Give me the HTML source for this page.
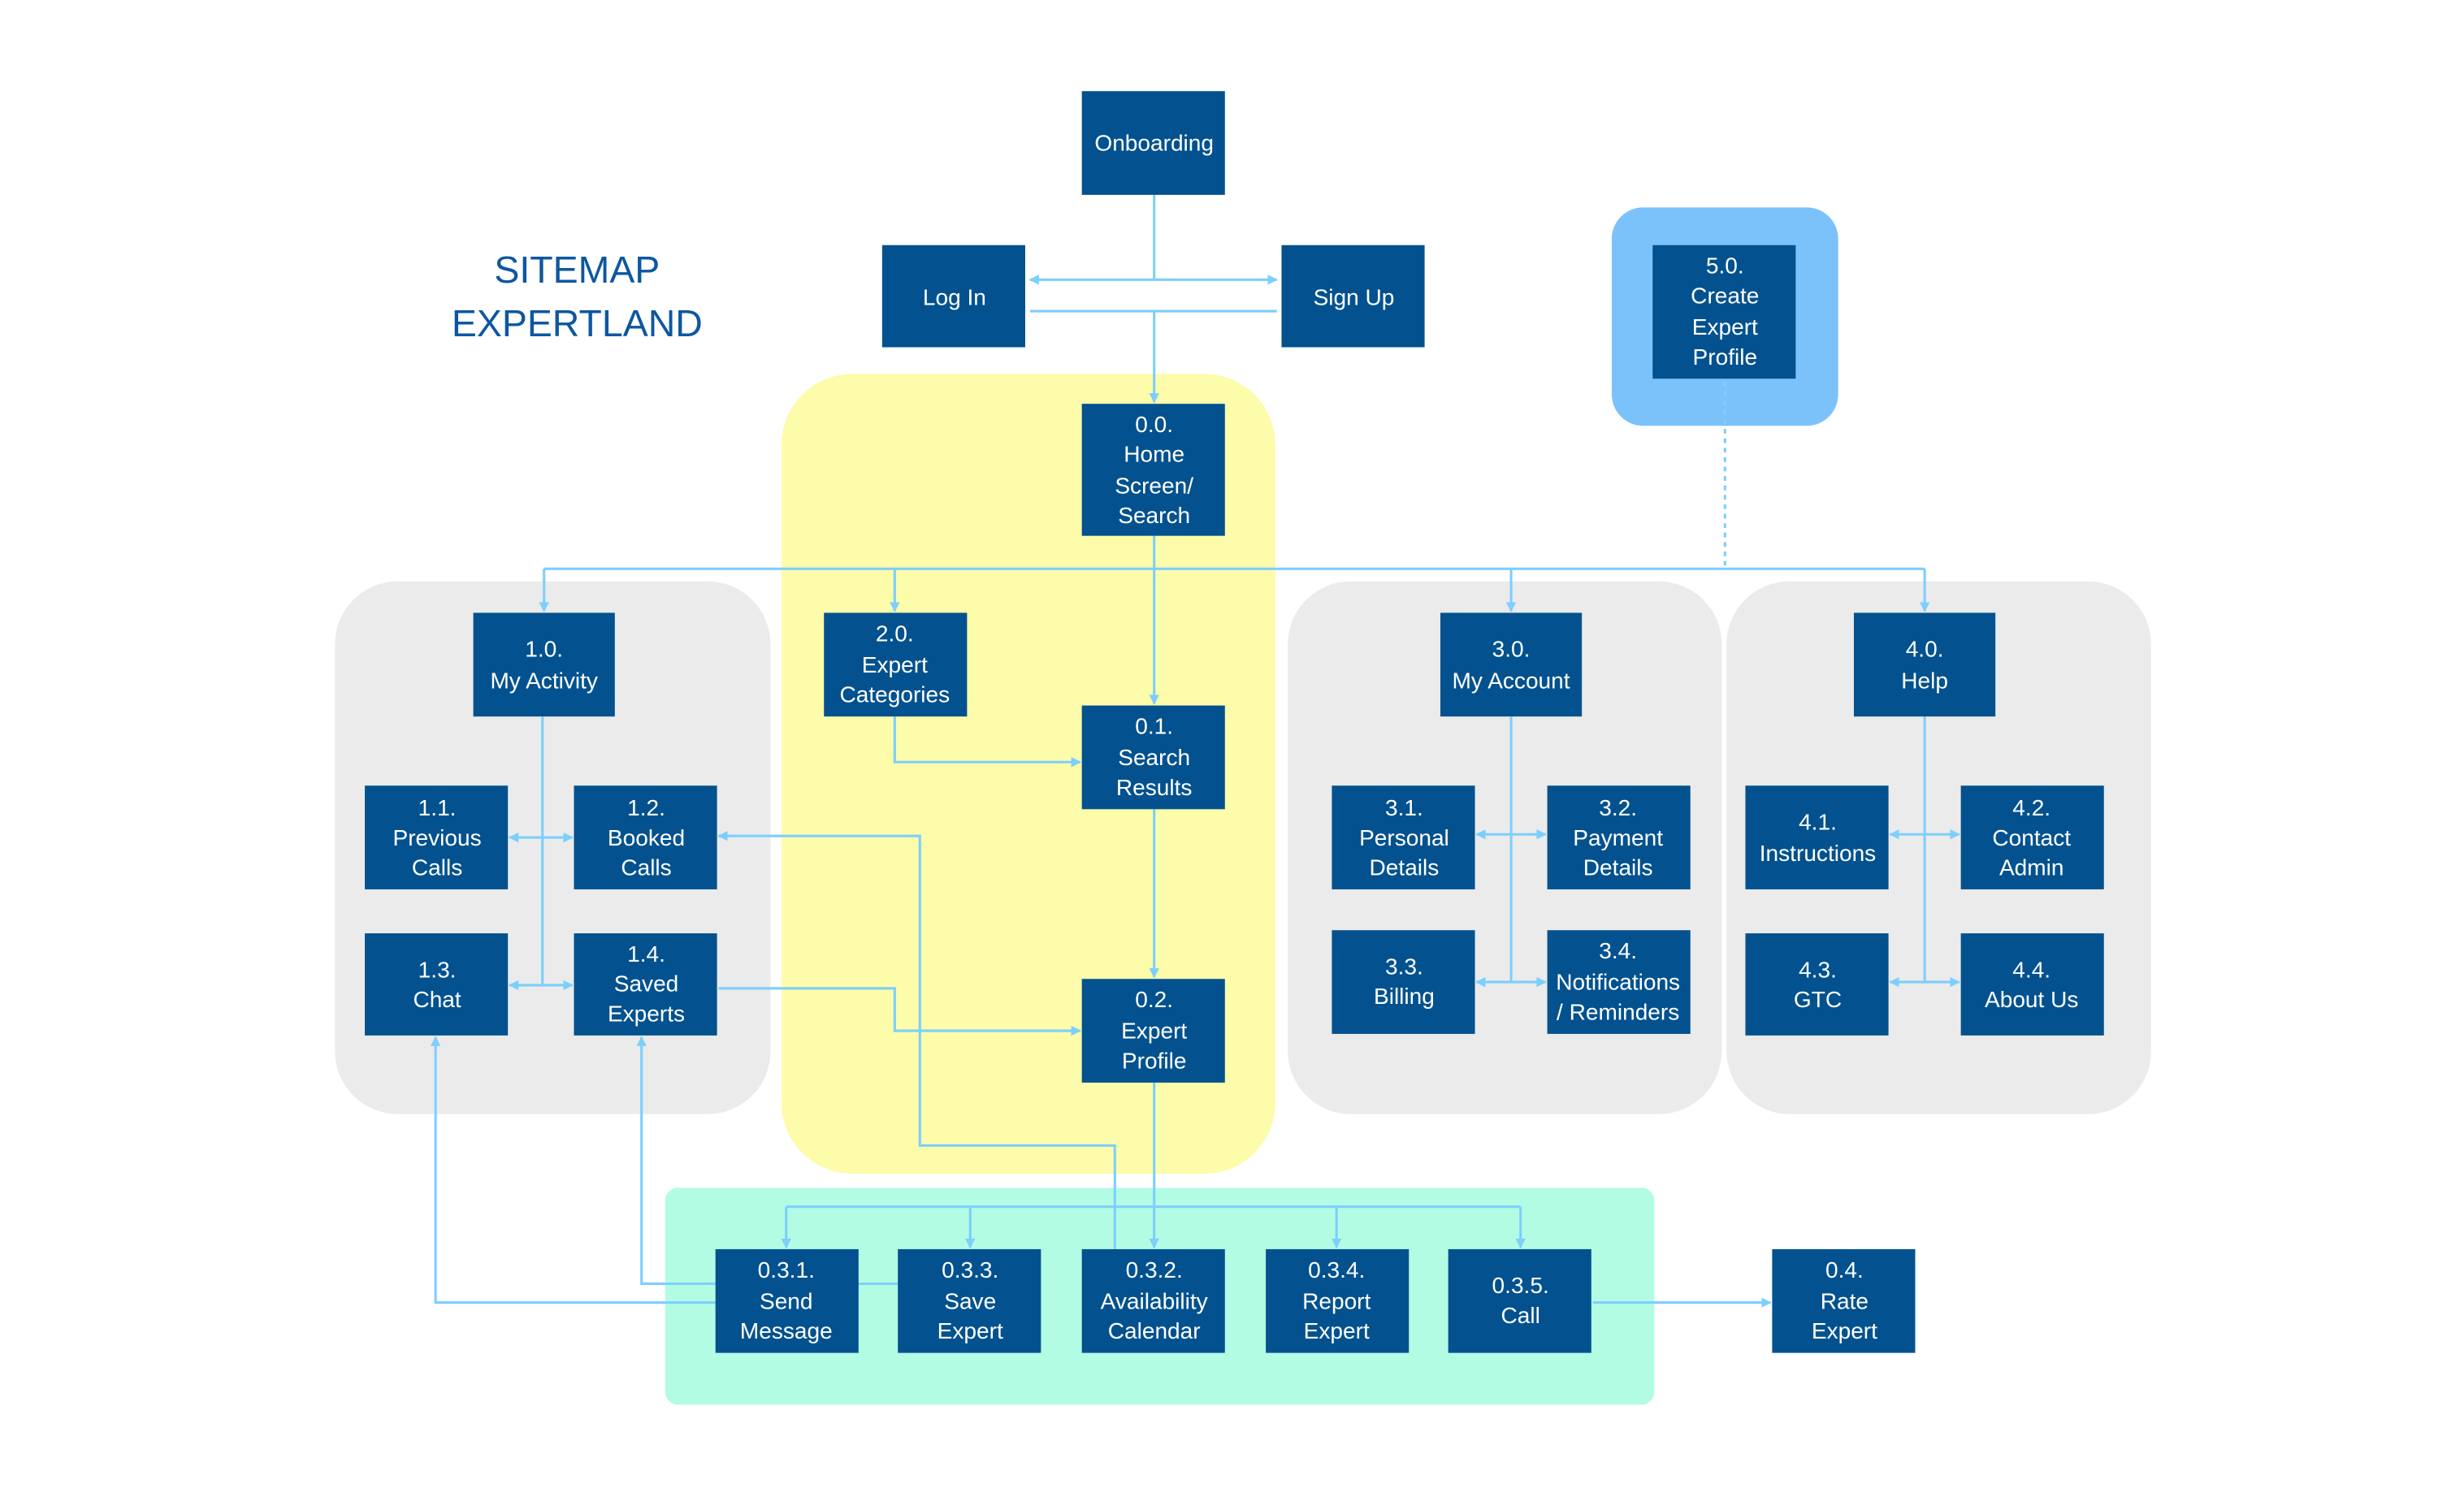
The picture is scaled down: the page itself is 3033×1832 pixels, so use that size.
<!DOCTYPE html>
<html><head><meta charset="utf-8"><style>
html,body{margin:0;padding:0;background:#fff;}
svg{display:block;}
text{font-family:"Liberation Sans",sans-serif;fill:#fff;font-size:14.5px;text-anchor:middle;}
</style></head><body>
<svg width="3033" height="1832" viewBox="0 0 1567 947" preserveAspectRatio="none" xmlns="http://www.w3.org/2000/svg">
<defs>
<marker id="a" viewBox="0 0 10 10" refX="9" refY="5" markerWidth="4" markerHeight="4" orient="auto-start-reverse"><path d="M0,0 L10,5 L0,10 z" fill="#7ccffc"/></marker>
</defs>
<!-- containers -->
<rect x="1025" y="132" width="144" height="139" rx="20" fill="#7bc2fb"/>
<rect x="497" y="238" width="314" height="509" rx="45" fill="#fcfcaa"/>
<rect x="213" y="370" width="277" height="339" rx="40" fill="#ebebeb"/>
<rect x="819" y="370" width="276" height="339" rx="40" fill="#ebebeb"/>
<rect x="1098" y="370" width="270" height="339" rx="40" fill="#ebebeb"/>
<rect x="423" y="756" width="629" height="138" rx="8" fill="#b3fce4"/>
<text x="367" y="180" style="fill:#0d57a0;font-size:24px">SITEMAP</text>
<text x="367" y="214" style="fill:#0d57a0;font-size:24px">EXPERTLAND</text>
<!-- connectors -->
<g stroke="#7ccffc" stroke-width="1.6" fill="none">
<path d="M734,124 V178"/>
<path d="M655,178 H812" marker-start="url(#a)" marker-end="url(#a)"/>
<path d="M655,198 H812"/>
<path d="M734,198 V256" marker-end="url(#a)"/>
<path d="M734,341 V448" marker-end="url(#a)"/>
<path d="M346,362 H1224"/>
<path d="M346,362 V389" marker-end="url(#a)"/>
<path d="M569,362 V389" marker-end="url(#a)"/>
<path d="M961,362 V389" marker-end="url(#a)"/>
<path d="M1224,362 V389" marker-end="url(#a)"/>
<path d="M1097,243 V362" stroke-dasharray="3,3"/>
<path d="M569,456 V485 H687" marker-end="url(#a)"/>
<path d="M734,515 V622" marker-end="url(#a)"/>
<path d="M345,456 V627"/>
<path d="M324,533 H364" marker-start="url(#a)" marker-end="url(#a)"/>
<path d="M324,627 H364" marker-start="url(#a)" marker-end="url(#a)"/>
<path d="M961,456 V625"/>
<path d="M939,531 H983" marker-start="url(#a)" marker-end="url(#a)"/>
<path d="M939,625 H983" marker-start="url(#a)" marker-end="url(#a)"/>
<path d="M1224,456 V625"/>
<path d="M1202,531 H1246" marker-start="url(#a)" marker-end="url(#a)"/>
<path d="M1202,625 H1246" marker-start="url(#a)" marker-end="url(#a)"/>
<path d="M709,795 V729 H585 V532 H457" marker-end="url(#a)"/>
<path d="M457,629 H569 V656 H687" marker-end="url(#a)"/>
<path d="M734,689 V794" marker-end="url(#a)"/>
<path d="M500,768 H967"/>
<path d="M500,768 V794" marker-end="url(#a)"/>
<path d="M617,768 V794" marker-end="url(#a)"/>
<path d="M850,768 V794" marker-end="url(#a)"/>
<path d="M967,768 V794" marker-end="url(#a)"/>
<path d="M455,817 H408 V660" marker-end="url(#a)"/>
<path d="M455,829 H277 V660" marker-end="url(#a)"/>
<path d="M546,817 H571"/>
<path d="M1013,829 H1126" marker-end="url(#a)"/>
</g>
<!-- boxes -->
<g fill="#03528f">
<rect x="688" y="58" width="91" height="66"/>
<rect x="561" y="156" width="91" height="65"/>
<rect x="815" y="156" width="91" height="65"/>
<rect x="1051" y="156" width="91" height="85"/>
<rect x="688" y="257" width="91" height="84"/>
<rect x="301" y="390" width="90" height="66"/>
<rect x="524" y="390" width="91" height="66"/>
<rect x="916" y="390" width="90" height="66"/>
<rect x="1179" y="390" width="90" height="66"/>
<rect x="688" y="449" width="91" height="66"/>
<rect x="232" y="500" width="91" height="66"/>
<rect x="365" y="500" width="91" height="66"/>
<rect x="232" y="594" width="91" height="65"/>
<rect x="365" y="594" width="91" height="65"/>
<rect x="847" y="500" width="91" height="66"/>
<rect x="984" y="500" width="91" height="66"/>
<rect x="847" y="592" width="91" height="66"/>
<rect x="984" y="592" width="91" height="66"/>
<rect x="1110" y="500" width="91" height="66"/>
<rect x="1247" y="500" width="91" height="66"/>
<rect x="1110" y="594" width="91" height="65"/>
<rect x="1247" y="594" width="91" height="65"/>
<rect x="688" y="623" width="91" height="66"/>
<rect x="455" y="795" width="91" height="66"/>
<rect x="571" y="795" width="91" height="66"/>
<rect x="688" y="795" width="91" height="66"/>
<rect x="805" y="795" width="91" height="66"/>
<rect x="921" y="795" width="91" height="66"/>
<rect x="1127" y="795" width="91" height="66"/>
</g>
<g>
<text x="734" y="96">Onboarding</text>
<text x="607" y="194">Log In</text>
<text x="861" y="194">Sign Up</text>
<text x="1097" y="174">5.0.</text><text x="1097" y="193">Create</text><text x="1097" y="213">Expert</text><text x="1097" y="232">Profile</text>
<text x="734" y="275">0.0.</text><text x="734" y="294">Home</text><text x="734" y="314">Screen/</text><text x="734" y="333">Search</text>
<text x="346" y="418">1.0.</text><text x="346" y="438">My Activity</text>
<text x="569" y="408">2.0.</text><text x="569" y="428">Expert</text><text x="569" y="447">Categories</text>
<text x="961" y="418">3.0.</text><text x="961" y="438">My Account</text>
<text x="1224" y="418">4.0.</text><text x="1224" y="438">Help</text>
<text x="734" y="467">0.1.</text><text x="734" y="487">Search</text><text x="734" y="506">Results</text>
<text x="278" y="519">1.1.</text><text x="278" y="538">Previous</text><text x="278" y="557">Calls</text>
<text x="411" y="519">1.2.</text><text x="411" y="538">Booked</text><text x="411" y="557">Calls</text>
<text x="278" y="622">1.3.</text><text x="278" y="641">Chat</text>
<text x="411" y="612">1.4.</text><text x="411" y="631">Saved</text><text x="411" y="650">Experts</text>
<text x="893" y="519">3.1.</text><text x="893" y="538">Personal</text><text x="893" y="557">Details</text>
<text x="1029" y="519">3.2.</text><text x="1029" y="538">Payment</text><text x="1029" y="557">Details</text>
<text x="893" y="620">3.3.</text><text x="893" y="639">Billing</text>
<text x="1029" y="610">3.4.</text><text x="1029" y="630">Notifications</text><text x="1029" y="649">/ Reminders</text>
<text x="1156" y="528">4.1.</text><text x="1156" y="548">Instructions</text>
<text x="1292" y="519">4.2.</text><text x="1292" y="538">Contact</text><text x="1292" y="557">Admin</text>
<text x="1156" y="622">4.3.</text><text x="1156" y="641">GTC</text>
<text x="1292" y="622">4.4.</text><text x="1292" y="641">About Us</text>
<text x="734" y="641">0.2.</text><text x="734" y="661">Expert</text><text x="734" y="680">Profile</text>
<text x="500" y="813">0.3.1.</text><text x="500" y="833">Send</text><text x="500" y="852">Message</text>
<text x="617" y="813">0.3.3.</text><text x="617" y="833">Save</text><text x="617" y="852">Expert</text>
<text x="734" y="813">0.3.2.</text><text x="734" y="833">Availability</text><text x="734" y="852">Calendar</text>
<text x="850" y="813">0.3.4.</text><text x="850" y="833">Report</text><text x="850" y="852">Expert</text>
<text x="967" y="823">0.3.5.</text><text x="967" y="842">Call</text>
<text x="1173" y="813">0.4.</text><text x="1173" y="833">Rate</text><text x="1173" y="852">Expert</text>
</g>
</svg>
</body></html>
